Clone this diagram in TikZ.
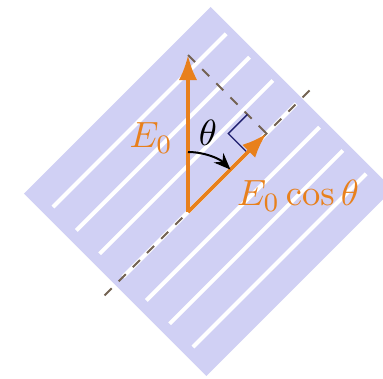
\documentclass[tikz,border=0pt]{standalone}
\usetikzlibrary{arrows.meta}
\definecolor{plate}{RGB}{208,208,244}
\definecolor{vecorange}{RGB}{232,128,28}
\definecolor{axisbrown}{RGB}{115,98,82}
\definecolor{marknavy}{RGB}{30,30,110}

\begin{document}
\begin{tikzpicture}[x=0.3pt,y=0.3pt,
  vec/.style={vecorange,line width=1.1pt,-{Latex[length=7.5pt,width=5.5pt]}},
  stripe/.style={white,line width=1.2pt},
  guide/.style={axisbrown,dashed,line width=0.6pt},
  every node/.style={font=\fontsize{11}{13}\selectfont}]
\clip (0,0) rectangle (383,378);
\coordinate (O) at (188,166);
\begin{scope}[shift={(O)},rotate=45]
\fill[plate] (-103,-129) rectangle (161,129);
\foreach \k in {-3,...,3}
  \draw[stripe] (-92,33*\k) -- (153,33*\k);
\coordinate (F) at (111,0);
\coordinate (T) at (111,111);
\coordinate (a1) at (-118,0);
\coordinate (a2) at (179,0);
\draw[guide] (a1) -- (a2);
\draw[guide] (T) -- (F);
% right angle at the foot
\draw[marknavy,line width=0.4pt] (84,0) -- (84,27) -- (111,27);
\end{scope}
\draw[vec] (O) -- (T);
\draw[vec] (O) -- (F);
\draw[line width=0.6pt,-{Stealth[length=5pt,width=4pt]}] (O) ++(90:60) arc[start angle=90,end angle=45,radius=60];
\node[text=vecorange] (e0) at (151,240) {$E_0$};
\node (th) at (208,245) {$\theta$};
\node[text=vecorange] (e0c) at (298,182) {$E_0\cos\theta$};
\end{tikzpicture}
\end{document}
